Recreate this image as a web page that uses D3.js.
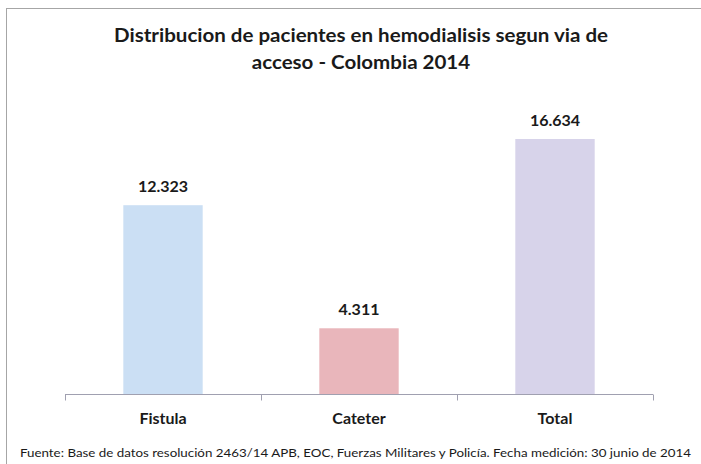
<!DOCTYPE html>
<html>
<head>
<meta charset="utf-8">
<script src="https://cdn.jsdelivr.net/npm/d3@7/dist/d3.min.js"></script>
<style>
  html, body { margin: 0; padding: 0; background: #fff; }
  svg { display: block; }
  text { font-family: Lato, "Open Sans", sans-serif; fill: #1a1a1a; }
</style>
</head>
<body>
<svg id="chart" width="701" height="464"></svg>
<script>
const categories = ["Fistula", "Cateter", "Total"];
const values = [12323, 4311, 16634];
const valueLabels = ["12.323", "4.311", "16.634"];
const barColors = ["#CBDFF4", "#E9B6BB", "#D7D3EA"];
const titleLines = ["Distribucion de pacientes en hemodialisis segun via de", "acceso - Colombia 2014"];
const footer = "Fuente:  Base de datos resolución 2463/14 APB, EOC, Fuerzas Militares y Policía. Fecha medición: 30 junio de 2014";

const svg = d3.select("#chart");
const W = 701, H = 464;

// outer frame (extends beyond right/bottom edges)
svg.append("rect")
  .attr("x", 6.5).attr("y", 8.5)
  .attr("width", W + 10).attr("height", H + 10)
  .attr("fill", "#fff").attr("stroke", "#A6A6A6").attr("stroke-width", 1);

const x = d3.scaleBand().domain(categories).range([65, 653]).paddingInner(0.595).paddingOuter(0.2975);
const y = d3.scaleLinear().domain([0, 18000]).range([394.5, 118]);

// bars
svg.append("g").selectAll("rect").data(values).join("rect")
  .attr("x", (d, i) => x(categories[i]))
  .attr("width", x.bandwidth())
  .attr("y", d => y(d))
  .attr("height", d => y(0) - y(d))
  .attr("fill", (d, i) => barColors[i]);

// x axis
const xAxisScale = d3.scalePoint().domain(d3.range(categories.length + 1)).range([65, 653]);
const axisG = svg.append("g").attr("transform", "translate(0,394.5)");
axisG.append("line").attr("x1", 65).attr("x2", 653).attr("y1", 0).attr("y2", 0)
  .attr("stroke", "#A0A0B0").attr("stroke-width", 1);
axisG.selectAll("line.tick").data(xAxisScale.domain()).join("line")
  .attr("class", "tick")
  .attr("x1", d => Math.round(xAxisScale(d)) + 0.5).attr("x2", d => Math.round(xAxisScale(d)) + 0.5)
  .attr("y1", 0).attr("y2", 6)
  .attr("stroke", "#A0A0B0").attr("stroke-width", 1);

// category labels
svg.append("g").selectAll("text").data(categories).join("text")
  .attr("x", d => x(d) + x.bandwidth() / 2)
  .attr("y", 423.5)
  .attr("text-anchor", "middle")
  .attr("font-size", 16).attr("font-weight", 700)
  .text(d => d);

// value labels
svg.append("g").selectAll("text").data(values).join("text")
  .attr("x", (d, i) => x(categories[i]) + x.bandwidth() / 2)
  .attr("y", d => y(d) - 13)
  .attr("text-anchor", "middle")
  .attr("font-size", 16).attr("font-weight", 700)
  .text((d, i) => valueLabels[i]);

// title
const t1 = svg.append("text").attr("x", 361).attr("y", 42).attr("text-anchor", "middle")
  .attr("font-size", 18).attr("font-weight", 700).text(titleLines[0]);
const t2 = svg.append("text").attr("x", 361).attr("y", 69).attr("text-anchor", "middle")
  .attr("font-size", 18).attr("font-weight", 700).text(titleLines[1]);
const n1 = t1.node().getComputedTextLength();
const ratio = 494 / n1;
t1.attr("textLength", 494).attr("lengthAdjust", "spacingAndGlyphs");
t2.attr("textLength", t2.node().getComputedTextLength() * ratio).attr("lengthAdjust", "spacingAndGlyphs");

// footer
svg.append("text").attr("x", 20).attr("y", 456.5)
  .attr("font-size", 12).attr("textLength", 671).attr("lengthAdjust", "spacingAndGlyphs")
  .text(footer);
</script>
</body>
</html>
